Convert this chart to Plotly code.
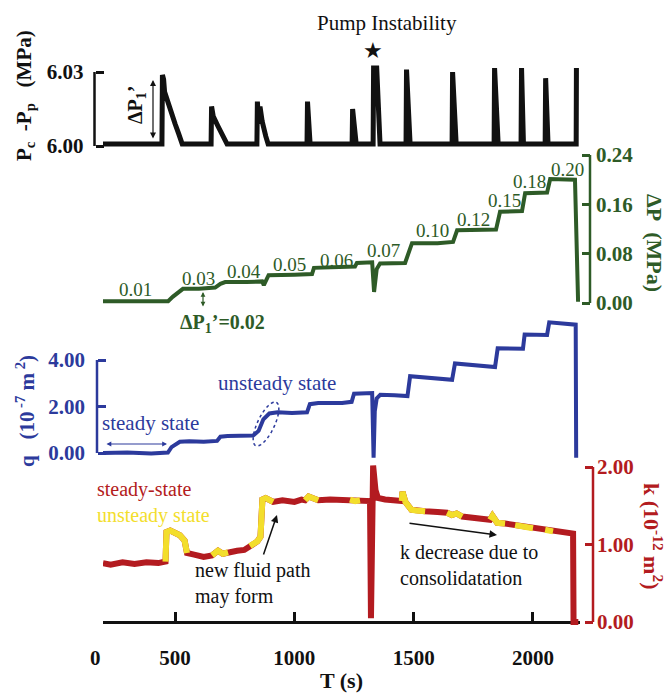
import math
import plotly.graph_objects as go

# ---------------- data ----------------
# confining minus pore pressure (MPa)
p_time = [198, 300, 445, 447, 452, 456, 465, 480, 500, 515, 530, 600, 651, 653, 660, 680, 700, 718, 780,
          843, 845, 850, 856, 865, 880, 890, 960, 1053, 1055, 1066, 1150, 1242, 1244, 1259,
          1330, 1332, 1345, 1359, 1420, 1468, 1470, 1485, 1570, 1661, 1663, 1678, 1760,
          1837, 1839, 1854, 1950, 1952, 1960, 2051, 2053, 2063, 2120, 2181, 2182]
p_value = [6.0008, 6.0008, 6.0008, 6.0288, 6.027, 6.022, 6.019, 6.014, 6.009, 6.005, 6.0008, 6.0008,
           6.0008, 6.016, 6.012, 6.008, 6.004, 6.0008, 6.0008,
           6.0008, 6.018, 6.009, 6.016, 6.010, 6.004, 6.0008, 6.0008, 6.0008, 6.018, 6.0008, 6.0008,
           6.0008, 6.015, 6.0008, 6.0008, 6.0316, 6.0316, 6.0008, 6.0008, 6.0008, 6.031, 6.0008,
           6.0008, 6.0008, 6.030, 6.0008, 6.0008, 6.0008, 6.0316, 6.0008, 6.0008, 6.0316, 6.0008,
           6.0008, 6.0275, 6.0008, 6.0008, 6.0008, 6.0316]

# differential pressure (MPa)
dp_time = [198, 471, 490, 515, 533, 600, 668, 690, 710, 800, 865, 872, 880, 892, 1000, 1074, 1082, 1200,
           1254, 1262, 1326, 1334, 1345, 1359, 1464, 1493, 1600, 1665, 1682, 1845, 1862, 1954, 1967,
           2059, 2072, 2176, 2189]
dp_value = [0.003, 0.003, 0.010, 0.018, 0.023, 0.023, 0.025, 0.031, 0.034, 0.034, 0.035, 0.029, 0.036,
            0.045, 0.046, 0.047, 0.057, 0.058, 0.059, 0.065, 0.066, 0.018, 0.055, 0.064, 0.065, 0.097,
            0.097, 0.099, 0.118, 0.119, 0.148, 0.149, 0.178, 0.179, 0.201, 0.200, 0.002]
dp_labels = ["0.01", "0.03", "0.04", "0.05", "0.06", "0.07", "0.10", "0.12", "0.15", "0.18", "0.20"]
dp_label_time = [336, 600, 789, 978, 1175, 1372, 1577, 1749, 1879, 1984, 2143]
dp_label_value = [0.0227, 0.0405, 0.0519, 0.0632, 0.0697, 0.0859, 0.1168, 0.1362, 0.167, 0.1978, 0.2173]

# flow rate q (1e-7 m^2)
q_time = [198, 300, 400, 470, 485, 500, 520, 560, 620, 676, 690, 720, 780, 827, 850, 870, 895, 930, 990,
          1053, 1065, 1100, 1200, 1240, 1250, 1326, 1332, 1337, 1345, 1360, 1420, 1474, 1485, 1550,
          1661, 1673, 1760, 1841, 1852, 1958, 1965, 2059, 2068, 2120, 2179, 2181]
q_value = [0.0, 0.02, -0.02, 0.02, 0.25, 0.35, 0.48, 0.50, 0.48, 0.52, 0.70, 0.73, 0.72, 0.75, 0.95,
           1.45, 1.70, 1.75, 1.72, 1.75, 2.10, 2.15, 2.15, 2.20, 2.55, 2.58, -0.20, 1.80, 2.35, 2.50,
           2.48, 2.45, 3.30, 3.25, 3.15, 3.85, 3.78, 3.70, 4.50, 4.48, 5.10, 5.08, 5.62, 5.58, 5.52, -0.20]

# permeability k (1e-12 m^2), state of the segment starting at each point
k_time = [198, 230, 280, 330, 380, 430, 460, 464, 480, 500, 520, 540, 550, 580, 620, 655, 680, 700,
          722, 760, 790, 814, 845, 858, 866, 880, 911, 950, 1000, 1030, 1045, 1060, 1100, 1150, 1200,
          1233, 1255, 1275, 1317, 1321, 1325, 1330, 1340, 1350, 1380, 1420, 1450, 1453, 1465, 1490,
          1510, 1548, 1600, 1640, 1660, 1680, 1703, 1760, 1820, 1830, 1850, 1883, 1925, 1960, 2000,
          2051, 2084, 2130, 2168, 2170, 2190]
k_value = [0.76, 0.74, 0.77, 0.75, 0.77, 0.76, 0.78, 1.16, 1.18, 1.14, 1.12, 1.05, 0.89, 0.87, 0.84,
           0.86, 0.92, 0.88, 0.90, 0.92, 0.93, 0.98, 1.04, 1.10, 1.58, 1.60, 1.55, 1.57, 1.55, 1.58,
           1.57, 1.62, 1.57, 1.58, 1.57, 1.58, 1.56, 1.57, 1.56, 0.05, 1.55, 2.02, 1.70, 1.60, 1.58,
           1.57, 1.56, 1.68, 1.55, 1.45, 1.44, 1.43, 1.42, 1.41, 1.38, 1.40, 1.36, 1.34, 1.32, 1.37,
           1.28, 1.27, 1.25, 1.23, 1.21, 1.19, 1.17, 1.15, 1.14, 0.00, 0.00]
k_state = ("s s s s s s u u u u u u s s s u u u s s s u u u u u s s s s u u s s s u u "
           "s s s s s s s s s u u u u u s s u u u s s u u u s u u s u s s s s s").split()

x_tickvals = [198, 500, 1000, 1500, 2000]
x_ticktext = ["0\u00a0\u00a0\u00a0", "500", "1000", "1500", "2000"]

# ---------------- styling ----------------
W, H = 667, 693
SERIF = "Liberation Serif, Times New Roman, serif"
BLACK = "#111111"
GREEN = "#2e5b27"
BLUE = "#2c3a9c"
RED = "#b31b20"
YELLOW = "#f3de2c"
NB = "\u00a0"


def fx(px):
    return px / W


def fy(py):
    return 1 - py / H


def dom(top, bottom):
    return [fy(bottom), fy(top)]


fig = go.Figure()
fig.add_trace(go.Scatter(x=p_time, y=p_value, mode="lines", yaxis="y",
                         line=dict(color=BLACK, width=5), hoverinfo="skip"))
fig.add_trace(go.Scatter(x=dp_time, y=dp_value, mode="lines", yaxis="y2",
                         line=dict(color=GREEN, width=4), hoverinfo="skip"))
fig.add_trace(go.Scatter(x=q_time, y=q_value, mode="lines", yaxis="y3",
                         line=dict(color=BLUE, width=4), hoverinfo="skip"))
fig.add_trace(go.Scatter(x=k_time, y=k_value, mode="lines", yaxis="y4",
                         line=dict(color=RED, width=6), hoverinfo="skip"))
yx, yy = [], []
for i in range(len(k_time) - 1):
    if k_state[i] == "u":
        if not (yx and yx[-1] is not None and yx[-1] == k_time[i]):
            yx += [None, k_time[i]]
            yy += [None, k_value[i]]
        yx.append(k_time[i + 1])
        yy.append(k_value[i + 1])
fig.add_trace(go.Scatter(x=yx, y=yy, mode="lines", yaxis="y4", connectgaps=False,
                         line=dict(color=YELLOW, width=6), hoverinfo="skip"))


def tickfont(c):
    return dict(family=SERIF, size=21, color=c, weight="bold")


def yax(domain, rng, side, pos, tv, color, standoff, fmt=".2f"):
    return dict(domain=domain, range=rng, side=side, anchor="free", position=pos,
                showline=False, showgrid=False, zeroline=False, ticks="inside", ticklen=8,
                tickwidth=2.5, tickcolor=color, tickvals=tv, tickformat=fmt, automargin=False,
                tickfont=tickfont(color), ticklabelstandoff=standoff, fixedrange=True)


# pixel mappings of the four panels
black_rng = [6.00 + (146 - 150) * 0.03 / 74, 6.00 + (146 - 58) * 0.03 / 74]
green_rng = [(303 - 312) * 0.24 / 148, (303 - 150) * 0.24 / 148]
blue_rng = [(453 - 462) / 23.25, (453 - 312) / 23.25]
red_rng = [(622 - 626) / 77.5, (622 - 458) / 77.5]

fig.update_layout(
    width=W, height=H, margin=dict(l=0, r=0, t=0, b=0, autoexpand=False),
    paper_bgcolor="white", plot_bgcolor="rgba(0,0,0,0)", showlegend=False,
    xaxis=dict(domain=[fx(103), fx(580)], range=[198, 2197], anchor="free", position=fy(622),
               showline=True, linecolor=BLACK, linewidth=2.5, showgrid=False, zeroline=False,
               ticks="inside", ticklen=9, tickwidth=2.5, tickcolor=BLACK, automargin=False,
               tickvals=x_tickvals, ticktext=x_ticktext, tickfont=tickfont(BLACK),
               ticklabelstandoff=16, fixedrange=True),
    yaxis=yax(dom(58, 150), black_rng, "left", fx(94.5), [6.00, 6.03], BLACK, 11),
    yaxis2=yax(dom(150, 312), green_rng, "right", fx(590), [0, 0.08, 0.16, 0.24], GREEN, 5),
    yaxis3=yax(dom(312, 462), blue_rng, "left", fx(97), [0, 2, 4], BLUE, 12),
    yaxis4=yax(dom(458, 626), red_rng, "right", fx(593), [0, 1, 2], RED, 3),
)

shapes = [
    dict(type="line", xref="paper", yref="y", x0=fx(94.5), x1=fx(94.5), y0=6.00, y1=6.03,
         line=dict(color=BLACK, width=2.5)),
    dict(type="line", xref="paper", yref="y2", x0=fx(590), x1=fx(590), y0=0, y1=0.24,
         line=dict(color=GREEN, width=2.5)),
    dict(type="line", xref="paper", yref="y3", x0=fx(97), x1=fx(97), y0=0, y1=4,
         line=dict(color=BLUE, width=2.5)),
    dict(type="line", xref="paper", yref="y4", x0=fx(593), x1=fx(593), y0=0, y1=2,
         line=dict(color=RED, width=2.5)),
]
# dashed ellipse marking the unsteady state in q
cx, cy, a, b = 266, 424, 24, 8.5
ux, uy = 0.43, -0.90
vx, vy = 0.90, 0.43
pts = []
for i in range(61):
    th = 2 * math.pi * i / 60
    px_ = cx + a * math.cos(th) * ux + b * math.sin(th) * vx
    py_ = cy + a * math.cos(th) * uy + b * math.sin(th) * vy
    pts.append((fx(px_), fy(py_)))
path = "M " + " L ".join(f"{x:.5f},{y:.5f}" for x, y in pts) + " Z"
shapes.append(dict(type="path", xref="paper", yref="paper", path=path,
                   line=dict(color=BLUE, width=1.5, dash="dot")))
fig.update_layout(shapes=shapes)

ann = []


def text(t, x, y, size=21, color=BLACK, angle=0, xanchor="center", bold=False, family=SERIF,
         align="center"):
    ann.append(dict(text=t, x=fx(x), y=fy(y), xref="paper", yref="paper", showarrow=False,
                    textangle=angle, xanchor=xanchor, yanchor="middle", align=align,
                    font=dict(family=family, size=size, color=color,
                              weight="bold" if bold else "normal")))


def arrow(hx, hy, tx, ty, color, width=1.2, both=False, head=2, size=1.0):
    ann.append(dict(text="", x=fx(hx), y=fy(hy), xref="paper", yref="paper", showarrow=True,
                    ax=tx - hx, ay=ty - hy, axref="pixel", ayref="pixel",
                    arrowhead=head, arrowsize=size, arrowwidth=width, arrowcolor=color,
                    startarrowhead=head, startarrowsize=size,
                    arrowside="end+start" if both else "end"))


# axis titles
text(f"P<sub>c</sub>{NB}{NB}-P<sub>p</sub>{NB}{NB}{NB}(MPa)", 25, 96, size=21, angle=-90, bold=True)
text(f"ΔP{NB}{NB}(MPa)", 655, 243, size=22, color=GREEN, angle=90, bold=True)
text(f"q{NB}{NB}{NB}(10<sup>{NB}-7</sup>{NB}m<sup>{NB}2</sup>)", 25, 411, size=21, color=BLUE,
     angle=-90, bold=True)
text(f"k{NB}(10<sup>-12</sup>{NB}m<sup>2</sup>)", 653, 536, size=22, color=RED, angle=90, bold=True)
text("T (s)", 341, 680, size=22, bold=True)

# top panel notes
text("Pump Instability", 387, 23, size=21)
text("★", 373, 50, size=22, family="DejaVu Sans")
text("ΔP<sub>1</sub>’", 137, 105, size=20, angle=-90, bold=True)
arrow(153, 80, 153, 140, BLACK, width=1.2, both=True, head=2, size=1.0)

# green step labels
for lab, t, v in zip(dp_labels, dp_label_time, dp_label_value):
    ann.append(dict(text=lab, x=t, y=v, xref="x", yref="y2", showarrow=False,
                    font=dict(family=SERIF, size=19, color=GREEN)))
text("ΔP<sub>1</sub>’=0.02", 222, 323, size=20, color=GREEN, bold=True)
arrow(203, 292, 203, 308, GREEN, width=1.2, both=True, head=2, size=0.8)

# blue notes
text("steady state", 150, 423, size=21, color=BLUE)
text("unsteady state", 277, 383, size=21, color=BLUE)
arrow(167, 444, 105, 444, BLUE, width=1.2, both=True, head=2, size=0.8)

# red/yellow notes
text(f"<span style='color:{RED}'>steady-state</span><br>"
     f"<span style='color:{YELLOW}'>unsteady state</span>",
     95, 502, size=20, xanchor="left", align="left")
text("new fluid path<br>may form", 193, 583, size=20, xanchor="left", align="left")
arrow(277, 515, 263, 556, BLACK, width=1.5, head=2, size=1.0)
text("k decrease due to<br>consolidatation", 398, 565, size=20, xanchor="left", align="left")
arrow(497, 535, 408, 523, BLACK, width=1.5, head=2, size=1.0)

fig.update_layout(annotations=ann)
fig.write_html("out.html")
